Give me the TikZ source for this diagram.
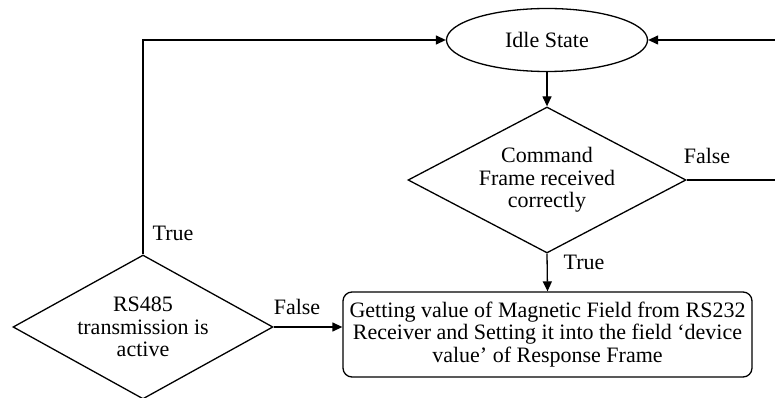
\documentclass[tikz,border=0pt]{standalone}
\usepackage{fontspec}
\setmainfont{Liberation Serif}
\newfontfamily\diagfont{Liberation Serif}
\usetikzlibrary{shapes.geometric,arrows.meta}
\begin{document}
\begin{tikzpicture}[x=1pt,y=-1pt,
  every node/.style={font=\diagfont\fontsize{22}{22.5}\selectfont, text=black},
  line/.style={draw=black, line width=1.3pt},
  arr/.style={line, -{Triangle[length=10pt,width=9pt]}},
  decision/.style={diamond, draw=black, line width=1.3pt, inner sep=0pt, align=center, aspect=1.9},
  statebox/.style={ellipse, draw=black, line width=1.3pt, inner sep=0pt, minimum width=201pt, minimum height=63pt},
  procbox/.style={rectangle, rounded corners=9pt, draw=black, line width=1.3pt, align=center, inner sep=0pt, minimum width=409pt, minimum height=85pt},
  lbl/.style={inner sep=0pt}]
\useasboundingbox (0,0) rectangle (775,398);
\node[statebox] (idle) at (547,40) {Idle State};
\node[decision, minimum width=278pt, minimum height=146pt] (cmd) at (547,180) {Command\\Frame received\\correctly};
\node[procbox] (proc) at (547.5,334.5) {Getting value of Magnetic Field from RS232\\Receiver and Setting it into the field ‘device\\value’ of Response Frame};
\node[decision, minimum width=260pt, minimum height=144pt] (rs) at (143,327) {RS485\\transmission is\\active};
\coordinate (fr) at (778,180);
\draw[arr] (idle.south) -- (cmd.north);
\draw[arr] (cmd.east) -- (fr) |- (idle.east);
\draw[arr] (cmd.south) -- (proc.north);
\draw[arr] (rs.north) |- (idle.west);
\draw[arr] (rs.east) -- (rs.east -| proc.west);
\node[lbl] (lf1) at (707,156) {False};
\node[lbl] (lt1) at (584,262) {True};
\node[lbl] (lt2) at (173,233) {True};
\node[lbl] (lf2) at (297,307) {False};
\end{tikzpicture}
\end{document}
